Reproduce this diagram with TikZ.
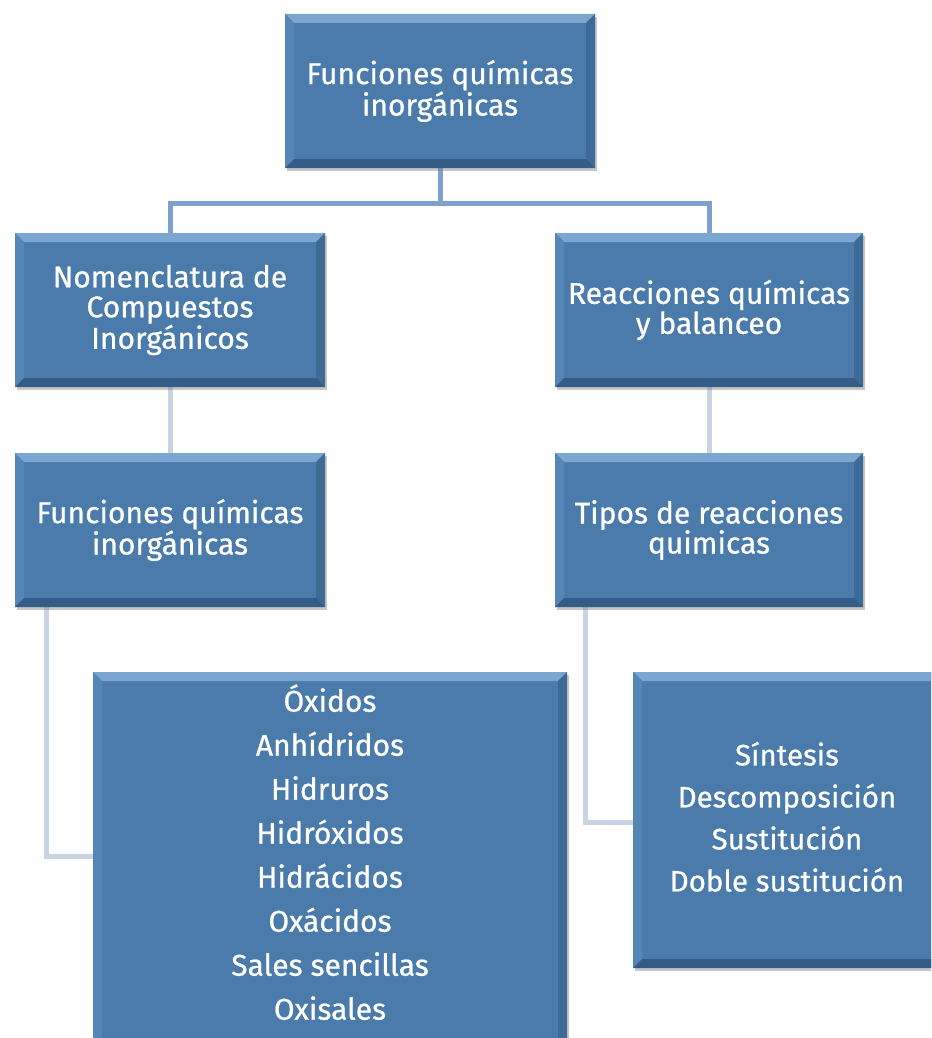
\documentclass[tikz,border=0pt]{standalone}
\usepackage{fontspec}
\setmainfont{Fira Sans}
\newfontfamily\boxfont{Fira Sans}[FakeBold=0.7]
\usetikzlibrary{shadows,backgrounds}
\definecolor{boxblue}{RGB}{74,123,171}
\definecolor{bevtopc}{RGB}{125,165,210}
\definecolor{bevleftc}{RGB}{84,134,184}
\definecolor{bevrightc}{RGB}{62,106,150}
\definecolor{bevbotc}{RGB}{52,92,134}
\definecolor{linkmid}{RGB}{127,160,204}
\definecolor{linklight}{RGB}{200,212,228}
\tikzset{
  bevbox/.style={rectangle, fill=boxblue, text=white, inner sep=0pt,
    drop shadow={shadow xshift=2pt, shadow yshift=-3pt, opacity=0.45},
    path picture={
      \fill[bevtopc] (path picture bounding box.north west) -- (path picture bounding box.north east)
        -- ([shift={(-9pt,-9pt)}]path picture bounding box.north east) -- ([shift={(9pt,-9pt)}]path picture bounding box.north west) -- cycle;
      \fill[bevleftc] (path picture bounding box.north west) -- ([shift={(9pt,-9pt)}]path picture bounding box.north west)
        -- ([shift={(9pt,9pt)}]path picture bounding box.south west) -- (path picture bounding box.south west) -- cycle;
      \fill[bevrightc] (path picture bounding box.north east) -- ([shift={(-9pt,-9pt)}]path picture bounding box.north east)
        -- ([shift={(-9pt,9pt)}]path picture bounding box.south east) -- (path picture bounding box.south east) -- cycle;
      \fill[bevbotc] (path picture bounding box.south west) -- ([shift={(9pt,9pt)}]path picture bounding box.south west)
        -- ([shift={(-9pt,9pt)}]path picture bounding box.south east) -- (path picture bounding box.south east) -- cycle;
    }},
  midbox/.style={bevbox, align=center, minimum width=310pt, minimum height=154pt, font=\boxfont\fontsize{30}{30}\selectfont},
  linkA/.style={linkmid, line width=5pt},
  linkB/.style={linklight, line width=5pt},
}
\begin{document}
\begin{tikzpicture}[x=1pt,y=-1pt]
\useasboundingbox (0,0) rectangle (931,1038);
\clip (0,0) rectangle (931,1038);
\node[midbox] (top) at (440,91) {Funciones químicas\\inorgánicas};
\node[midbox] (L2) at (170,310) {Nomenclatura de\\Compuestos\\Inorgánicos};
\node[midbox, minimum width=308pt] (R2) at (709,310) {Reacciones químicas\\y balanceo};
\node[midbox] (L3) at (170,530) {Funciones químicas\\inorgánicas};
\node[midbox, minimum width=308pt] (R3) at (709,530) {Tipos de reacciones\\quimicas};
\node[bevbox, align=center, minimum width=474pt, minimum height=384pt, font=\boxfont\fontsize{30}{44}\selectfont] (L4) at (330,864)
  {Óxidos\\Anhídridos\\Hidruros\\Hidróxidos\\Hidrácidos\\Oxácidos\\Sales sencillas\\Oxisales\\[-20pt]\mbox{}};
\node[bevbox, minimum width=340pt, minimum height=296pt, font=\boxfont\fontsize{29.5}{42}\selectfont] (R4) at (803,820)
  {\hspace*{-32pt}\begin{tabular}{@{}c@{}}Síntesis\\Descomposición\\Sustitución\\Doble sustitución\end{tabular}};
\begin{scope}[on background layer]
\draw[linkA] (top.south) -- ++(0,35) coordinate (hub);
\draw[linkA, line cap=rect] (hub) -| (L2.north);
\draw[linkA, line cap=rect] (hub) -| (R2.north);
\draw[linkB] (L2.south) -- (L3.north);
\draw[linkB] (R2.south) -- (R3.north);
\draw[linkB] ([xshift=32pt]L3.south west) |- ([yshift=8pt]L4.west);
\draw[linkB] ([xshift=31pt]R3.south west) |- ([yshift=-2pt]R4.west);
\end{scope}
\end{tikzpicture}
\end{document}
